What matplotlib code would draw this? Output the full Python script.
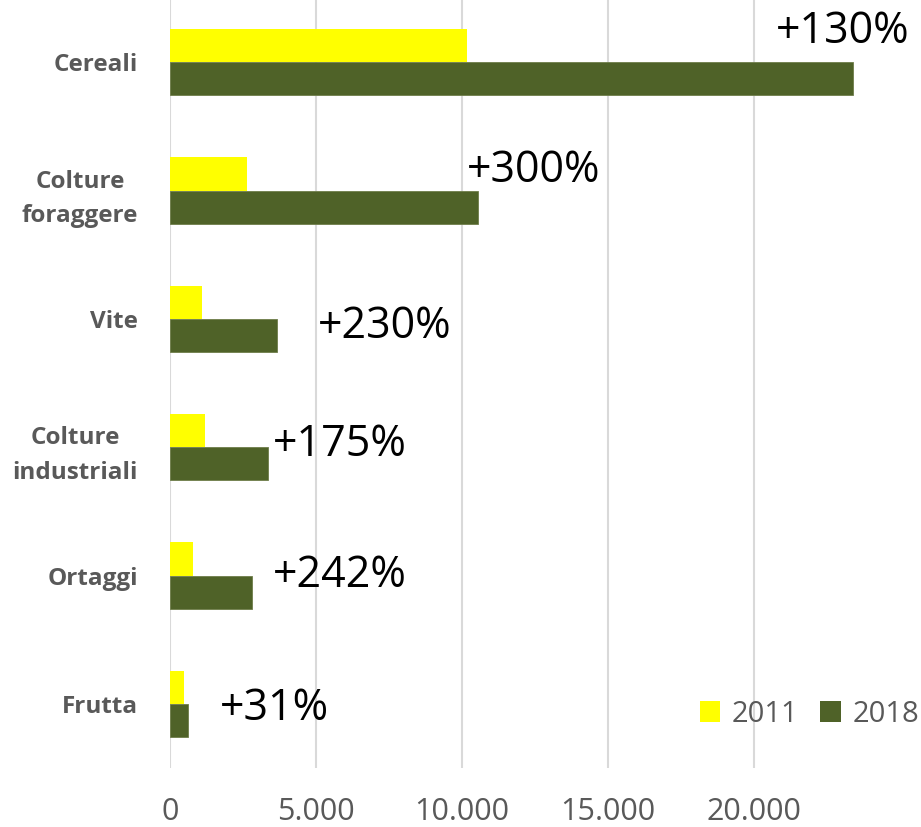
import numpy as np
import matplotlib
matplotlib.use('Agg')
import matplotlib.pyplot as plt
from matplotlib.patches import Patch

# data
categories = ['Cereali', 'Colture\nforaggere', 'Vite', 'Colture\nindustriali', 'Ortaggi', 'Frutta']
values_2011 = [10160, 2630, 1085, 1200, 800, 470]
values_2018 = [23380, 10540, 3650, 3345, 2800, 628]
growth_labels = ['+130%', '+300%', '+230%', '+175%', '+242%', '+31%']
label_x = [20750, 10170, 5070, 3530, 3530, 1710]
label_y = [-0.235, 0.845, 2.065, 2.985, 4.005, 5.035]
xticks = [0, 5000, 10000, 15000, 20000]
xtick_labels = ['0', '5.000', '10.000', '15.000', '20.000']

YELLOW = '#FFFF00'
GREEN = '#4F6228'
GREY_TXT = '#595959'

plt.rcParams['font.family'] = ['Open Sans', 'DejaVu Sans']

W, H = 921, 827
fig = plt.figure(figsize=(W / 100, H / 100), dpi=100)
left, right = 170 / W, 1.0
bottom, top = 1 - 768 / H, 1 + 2 / H
ax = fig.add_axes([left, bottom, right - left, top - bottom])

y = np.arange(len(categories))
h = 0.259
ax.barh(y - h / 2, values_2011, height=h, color=YELLOW, label='2011', zorder=3)
ax.barh(y + h / 2, values_2018, height=h, color=GREEN, edgecolor='#6E7D4A',
        linewidth=0.6, label='2018', zorder=3)

for txt, xx, yy in zip(growth_labels, label_x, label_y):
    ax.text(xx, yy, txt, fontsize=31, color='black', ha='left', va='center', zorder=4)

ax.set_xlim(0, (W - 170) / 0.0292)
ax.set_ylim(5.5, -0.5)
ax.set_xticks(xticks)
ax.set_xticklabels(xtick_labels)
ax.set_yticks(y)
ax.set_yticklabels(categories)
for lbl in ax.get_yticklabels():
    lbl.set_multialignment('center')
    lbl.set_fontweight('bold')
    lbl.set_linespacing(1.6)

ax.tick_params(axis='x', length=0, pad=21, labelsize=22, labelcolor=GREY_TXT)
ax.tick_params(axis='y', length=0, pad=23, labelsize=17.5, labelcolor=GREY_TXT)
ax.grid(axis='x', color='#D9D9D9', linewidth=1.5, zorder=0)
ax.set_axisbelow(True)
for s in ax.spines.values():
    s.set_visible(False)

handles = [Patch(facecolor=YELLOW), Patch(facecolor=GREEN)]
fig.legend(handles, ['2011', '2018'], loc='center right',
           bbox_to_anchor=(0.998, 1 - 714 / H), ncol=2, frameon=False,
           fontsize=21, labelcolor=GREY_TXT, handlelength=0.7, handleheight=0.7,
           handletextpad=0.4, columnspacing=0.75, borderpad=0, borderaxespad=0)

fig.savefig('out.png', dpi=100, facecolor='white')
